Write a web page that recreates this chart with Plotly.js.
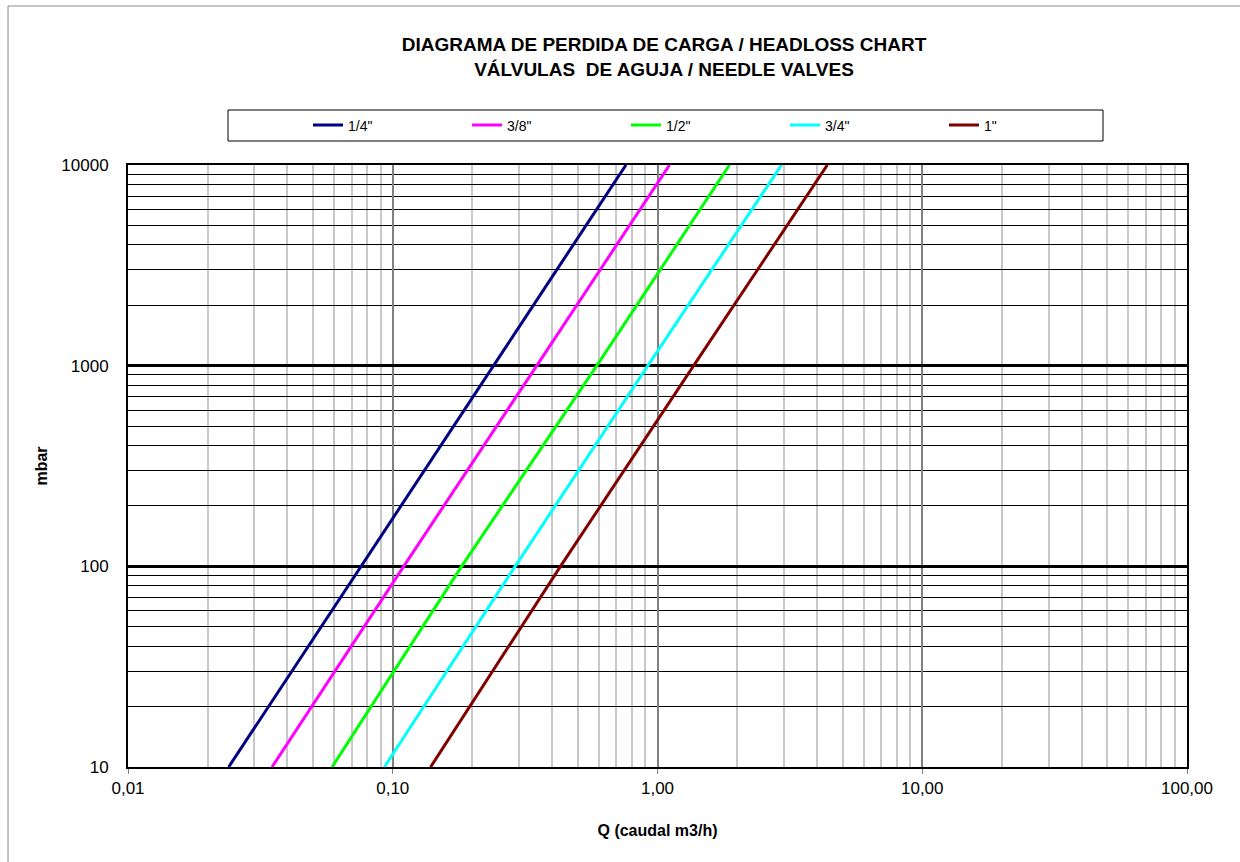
<!DOCTYPE html>
<html>
<head>
<meta charset="utf-8">
<script src="https://cdn.plot.ly/plotly-3.0.1.min.js"></script>
<style>html,body{margin:0;padding:0;background:#fff;}#chart{width:1240px;height:862px;}</style>
</head>
<body>
<div id="chart"></div>
<script>
// Series names and colours
const seriesNames = ['1/4"', '3/8"', '1/2"', '3/4"', '1"'];
const seriesColors = ['#000080', '#FF00FF', '#00FF00', '#00FFFF', '#800000'];

// Head loss values (mbar) at which flows were read
const headloss = [10, 100, 1000, 10000];

// Flow rate Q (m3/h) for each valve size at the head loss values above
const q_1_4 = [0.024, 0.076, 0.24, 0.76];
const q_3_8 = [0.035, 0.11, 0.35, 1.11];
const q_1_2 = [0.059, 0.182, 0.59, 1.87];
const q_3_4 = [0.093, 0.29, 0.92, 2.94];
const q_1   = [0.139, 0.43, 1.37, 4.38];
const qSeries = [q_1_4, q_3_8, q_1_2, q_3_4, q_1];

// Tick labels
const xTickVals = [0.01, 0.1, 1, 10, 100];
const xTickText = ['0,01', '0,10', '1,00', '10,00', '100,00'];
const yTickVals = [10, 100, 1000, 10000];
const yTickText = ['10', '100', '1000', '10000'];

function minorVals(lo, hi) {
  const out = [];
  for (let d = lo; d < hi; d *= 10) {
    for (let k = 2; k <= 9; k++) out.push(+(d * k).toPrecision(6));
  }
  return out;
}

const font = 'Liberation Sans, Arial, sans-serif';

const traces = seriesNames.map((n, i) => ({
  type: 'scatter',
  mode: 'lines',
  name: n,
  x: qSeries[i],
  y: headloss,
  line: {color: seriesColors[i], width: 3},
  hoverinfo: 'x+y+name'
}));

const L = 128, R = 1187, T = 165, B = 767;
const px = v => (v - L) / (R - L);
const py = v => (B - v) / (B - T);

const layout = {
  width: 1240, height: 862,
  margin: {l: L, r: 1240 - R, t: T, b: 862 - B},
  paper_bgcolor: '#ffffff',
  plot_bgcolor: '#ffffff',
  font: {family: font, color: '#000', size: 14},
  title: {
    text: '<b>DIAGRAMA DE PERDIDA DE CARGA / HEADLOSS CHART<br>VÁLVULAS\u00A0 DE AGUJA / NEEDLE VALVES</b>',
    font: {family: font, size: 19, color: '#000'},
    xref: 'container', x: 664 / 1240, xanchor: 'center',
    yref: 'container', y: 1 - 51 / 862, yanchor: 'middle'
  },
  showlegend: true,
  legend: {
    orientation: 'h',
    x: px(308), xanchor: 'left',
    y: py(125.5), yanchor: 'middle',
    bgcolor: 'rgba(0,0,0,0)',
    borderwidth: 0,
    font: {family: font, size: 14, color: '#000'},
    entrywidth: 114, entrywidthmode: 'pixels',
    itemwidth: 30,
    traceorder: 'normal'
  },
  xaxis: {
    type: 'log',
    range: [-2, 2],
    tickmode: 'array', tickvals: xTickVals, ticktext: xTickText,
    tickfont: {family: font, size: 17, color: '#000'},
    ticks: 'outside', ticklen: 5, tickcolor: '#808080', tickwidth: 1,
    showgrid: true, gridcolor: '#808080', gridwidth: 2,
    minor: {tickmode: 'array', tickvals: minorVals(0.01, 100), showgrid: true, gridcolor: '#c8c8c8', gridwidth: 2, ticks: ''},
    showline: true, linecolor: '#000', linewidth: 2, mirror: true,
    zeroline: false,
    title: {text: '<b>Q (caudal m3/h)</b>', font: {family: font, size: 16, color: '#000'}, standoff: 27},
    automargin: false
  },
  yaxis: {
    type: 'log',
    range: [1, 4],
    tickmode: 'array', tickvals: yTickVals, ticktext: yTickText,
    tickfont: {family: font, size: 17, color: '#000'},
    ticks: '', ticklabelstandoff: 14,
    showgrid: true, gridcolor: '#000000', gridwidth: 3,
    minor: {tickmode: 'array', tickvals: minorVals(10, 10000), showgrid: true, gridcolor: '#000000', gridwidth: 1, ticks: ''},
    showline: true, linecolor: '#000', linewidth: 2, mirror: true,
    zeroline: false,
    title: {text: '<b>mbar</b>', font: {family: font, size: 16, color: '#000'}, standoff: 10},
    automargin: false
  },
  shapes: [
    {type: 'rect', xref: 'paper', yref: 'paper', x0: px(228), x1: px(1103), y0: py(141), y1: py(110),
     line: {color: '#000', width: 1}, fillcolor: 'rgba(0,0,0,0)', layer: 'above'},
    {type: 'line', xref: 'paper', yref: 'paper', x0: px(8), x1: px(8), y0: py(6), y1: py(862),
     line: {color: '#888', width: 1}},
    {type: 'line', xref: 'paper', yref: 'paper', x0: px(8), x1: px(1240), y0: py(6), y1: py(6),
     line: {color: '#888', width: 1}}
  ]
};

Plotly.newPlot('chart', traces, layout, {displayModeBar: false});
</script>
</body>
</html>
